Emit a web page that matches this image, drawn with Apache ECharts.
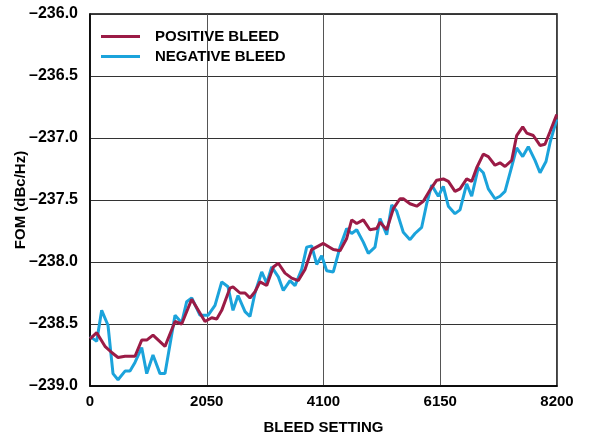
<!DOCTYPE html>
<html>
<head>
<meta charset="utf-8">
<title>FOM vs Bleed Setting</title>
<script src="https://cdn.jsdelivr.net/npm/echarts@6/dist/echarts.min.js"></script>
<style>
  html, body { margin: 0; padding: 0; background: #ffffff; }
  #chart { width: 594px; height: 439px; }
</style>
</head>
<body>
<div id="chart"></div>
<script>
  // values
  const xTicks = [0, 2050, 4100, 6150, 8200];

  const posBleedX = [0, 118, 263, 381, 492, 615, 790, 908, 996, 1106, 1317, 1493, 1610, 1786, 2019, 2137, 2225, 2313,
    2458, 2511, 2634, 2722, 2809, 2897, 2985, 3103, 3219, 3307, 3424, 3542, 3658, 3775, 3893, 4097, 4272, 4390, 4507,
    4595, 4683, 4799, 4916, 5034, 5092, 5210, 5326, 5443, 5501, 5619, 5737, 5852, 5970, 6088, 6204, 6292, 6409, 6497,
    6614, 6702, 6790, 6906, 6994, 7111, 7199, 7287, 7405, 7492, 7598, 7668, 7784, 7902, 7989, 8077, 8195];
  const posBleedFom = [-238.62, -238.57, -238.68, -238.73, -238.77, -238.76, -238.76, -238.63, -238.63, -238.59,
    -238.68, -238.48, -238.50, -238.30, -238.48, -238.45, -238.46, -238.39, -238.21, -238.20, -238.25, -238.25,
    -238.29, -238.24, -238.16, -238.19, -238.04, -238.01, -238.09, -238.13, -238.15, -238.06, -237.90, -237.85,
    -237.90, -237.91, -237.81, -237.66, -237.69, -237.66, -237.74, -237.73, -237.68, -237.74, -237.57, -237.49,
    -237.49, -237.53, -237.55, -237.51, -237.42, -237.34, -237.33, -237.35, -237.43, -237.41, -237.33, -237.35,
    -237.24, -237.13, -237.15, -237.22, -237.20, -237.23, -237.18, -236.98, -236.91, -236.96, -236.98, -237.06,
    -237.05, -236.95, -236.81];

  const negBleedX = [0, 118, 205, 316, 404, 492, 615, 702, 790, 908, 996, 1106, 1229, 1317, 1493, 1610, 1698, 1786,
    1932, 2072, 2195, 2313, 2423, 2511, 2599, 2722, 2809, 2897, 3015, 3103, 3190, 3307, 3394, 3512, 3600, 3717, 3805,
    3893, 3981, 4068, 4156, 4272, 4390, 4507, 4595, 4683, 4799, 4887, 5004, 5092, 5210, 5298, 5385, 5501, 5619, 5707,
    5824, 5912, 6000, 6116, 6204, 6292, 6409, 6497, 6614, 6702, 6818, 6906, 6994, 7111, 7199, 7287, 7405, 7492, 7598,
    7696, 7814, 7902, 8007, 8077, 8195];
  const negBleedFom = [-238.60, -238.64, -238.39, -238.51, -238.90, -238.95, -238.88, -238.88, -238.81, -238.69,
    -238.90, -238.75, -238.90, -238.90, -238.43, -238.49, -238.32, -238.29, -238.43, -238.43, -238.35, -238.16,
    -238.20, -238.39, -238.27, -238.40, -238.44, -238.25, -238.08, -238.17, -238.04, -238.12, -238.23, -238.15,
    -238.19, -238.06, -237.88, -237.87, -238.02, -237.95, -238.07, -238.08, -237.88, -237.73, -237.77, -237.74,
    -237.84, -237.93, -237.88, -237.65, -237.78, -237.54, -237.59, -237.76, -237.82, -237.77, -237.72, -237.53,
    -237.38, -237.47, -237.39, -237.55, -237.61, -237.58, -237.37, -237.47, -237.24, -237.28, -237.41, -237.49,
    -237.47, -237.43, -237.23, -237.08, -237.15, -237.07, -237.18, -237.28, -237.19, -237.04, -236.85];

  const font = 'Liberation Sans, Arial, sans-serif';
  const zip = (xs, ys) => xs.map((x, i) => [x, ys[i]]);

  const chart = echarts.init(document.getElementById('chart'), null, { renderer: 'canvas' });

  const option = {
    animation: false,
    backgroundColor: '#ffffff',
    color: ['#9b1b46', '#1ba3db'],
    grid: {
      left: 90,
      right: 37,
      top: 14,
      bottom: 53,
      outerBoundsMode: 'none',
      show: true,
      borderColor: '#000000',
      borderWidth: 1.5,
      backgroundColor: 'transparent'
    },
    legend: {
      orient: 'vertical',
      left: 96,
      top: 24,
      icon: 'rect',
      itemWidth: 39,
      itemHeight: 3,
      itemGap: 5,
      textStyle: {
        fontFamily: font,
        fontWeight: 'bold',
        fontSize: 15,
        color: '#000000',
        padding: [0, 0, 0, 10]
      },
      data: ['POSITIVE BLEED', 'NEGATIVE BLEED']
    },
    xAxis: {
      type: 'value',
      min: xTicks[0],
      max: xTicks[xTicks.length - 1],
      interval: 2050,
      name: 'BLEED SETTING',
      nameLocation: 'middle',
      nameGap: 34,
      nameMoveOverlap: false,
      nameTextStyle: { fontFamily: font, fontWeight: 'bold', fontSize: 15, color: '#000000' },
      axisLine: { lineStyle: { color: '#000000', width: 1.5 } },
      axisTick: { show: false },
      axisLabel: {
        fontFamily: font, fontWeight: 'bold', fontSize: 15, color: '#000000', margin: 8,
        formatter: v => String(v)
      },
      splitLine: { lineStyle: { color: '#555555', width: 1 } }
    },
    yAxis: {
      type: 'value',
      min: -239,
      max: -236,
      interval: 0.5,
      name: 'FOM (dBc/Hz)',
      nameLocation: 'middle',
      nameGap: 62,
      nameMoveOverlap: false,
      nameTextStyle: { fontFamily: font, fontWeight: 'bold', fontSize: 15, color: '#000000' },
      axisLine: { show: true, lineStyle: { color: '#000000', width: 1.5 } },
      axisTick: { show: false },
      axisLabel: {
        fontFamily: font, fontWeight: 'bold', fontSize: 16, color: '#000000', margin: 12,
        formatter: v => v.toFixed(1).replace('-', '\u2013')
      },
      splitLine: { lineStyle: { color: '#333333', width: 1 } }
    },
    series: [
      {
        name: 'POSITIVE BLEED',
        type: 'line',
        showSymbol: false,
        lineStyle: { width: 3 },
        z: 3,
        data: zip(posBleedX, posBleedFom)
      },
      {
        name: 'NEGATIVE BLEED',
        type: 'line',
        showSymbol: false,
        lineStyle: { width: 3 },
        z: 2,
        data: zip(negBleedX, negBleedFom)
      }
    ]
  };

  chart.setOption(option);
</script>
</body>
</html>
